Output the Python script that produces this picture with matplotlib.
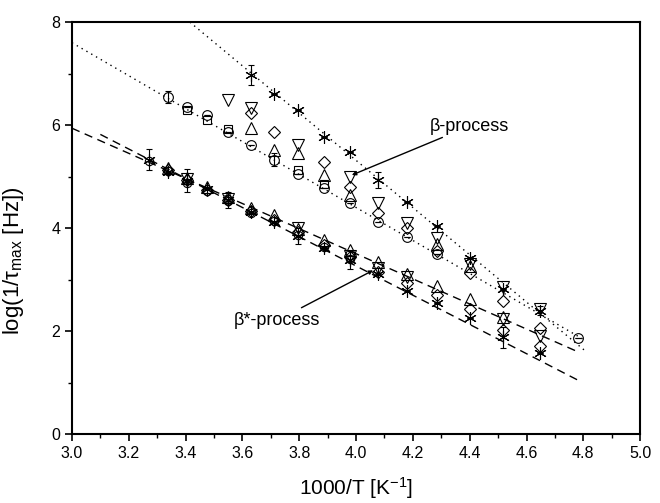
import matplotlib
matplotlib.use("Agg")
import matplotlib.pyplot as plt
import numpy as np

plt.rcParams['font.family'] = ['Liberation Sans', 'DejaVu Sans']
plt.rcParams['mathtext.fontset'] = 'custom'
plt.rcParams['mathtext.rm'] = 'Liberation Sans'
plt.rcParams['mathtext.it'] = 'Liberation Sans'
plt.rcParams['mathtext.default'] = 'regular'

# beta-process (upper branch)
b_star_x = [3.630, 3.711, 3.796, 3.887, 3.979, 4.077, 4.180, 4.285, 4.400, 4.518, 4.648]
b_star_y = [6.97, 6.61, 6.29, 5.77, 5.48, 4.93, 4.51, 4.05, 3.42, 2.82, 2.40]
b_star_e = [0.20, 0.0, 0.0, 0.0, 0.0, 0.15, 0.0, 0.0, 0.0, 0.0, 0.08]

b_circ_x = [3.338, 3.406, 3.477, 3.550, 3.630, 3.711, 3.796, 3.887, 3.979, 4.077, 4.180, 4.285, 4.782]
b_circ_y = [6.55, 6.36, 6.19, 5.86, 5.61, 5.33, 5.05, 4.78, 4.49, 4.12, 3.83, 3.50, 1.86]
b_circ_e = [0.12, 0.0, 0.0, 0.0, 0.0, 0.12, 0.0, 0.0, 0.0, 0.0, 0.0, 0.0, 0.0]

b_sq_x = [3.406, 3.477, 3.550, 3.796, 3.887]
b_sq_y = [6.30, 6.10, 5.93, 5.12, 4.85]

b_dtri_x = [3.550, 3.630, 3.796, 3.979, 4.077, 4.180, 4.285, 4.400, 4.518, 4.648]
b_dtri_y = [6.49, 6.33, 5.61, 5.00, 4.48, 4.10, 3.80, 3.31, 2.86, 2.42]

b_utri_x = [3.630, 3.711, 3.796, 3.887, 3.979, 4.285, 4.400]
b_utri_y = [5.94, 5.51, 5.45, 5.03, 4.64, 3.70, 3.27]

b_dia_x = [3.630, 3.711, 3.887, 3.979, 4.077, 4.180, 4.285, 4.400, 4.518, 4.648]
b_dia_y = [6.24, 5.87, 5.29, 4.80, 4.29, 4.00, 3.56, 3.13, 2.58, 2.06]

# beta*-process (lower branch)
s_star_x = [3.272, 3.338, 3.406, 3.477, 3.550, 3.630, 3.711, 3.796, 3.887, 3.979, 4.077, 4.180, 4.285, 4.400, 4.518, 4.648]
s_star_y = [5.33, 5.08, 4.92, 4.75, 4.55, 4.32, 4.12, 3.85, 3.62, 3.38, 3.10, 2.78, 2.54, 2.25, 1.88, 1.57]
s_star_e = [0.20, 0.0, 0.22, 0.0, 0.15, 0.0, 0.0, 0.15, 0.0, 0.17, 0.0, 0.0, 0.0, 0.0, 0.20, 0.0]

s_dia_x = [3.338, 3.406, 3.477, 3.550, 3.630, 3.711, 3.796, 3.887, 3.979, 4.077, 4.180, 4.285, 4.400, 4.518, 4.648]
s_dia_y = [5.12, 4.93, 4.74, 4.54, 4.34, 4.16, 3.92, 3.67, 3.43, 3.15, 2.94, 2.70, 2.42, 2.03, 1.72]

s_utri_x = [3.338, 3.406, 3.477, 3.550, 3.630, 3.711, 3.796, 3.887, 3.979, 4.077, 4.180, 4.285, 4.400, 4.518]
s_utri_y = [5.16, 4.98, 4.80, 4.60, 4.40, 4.25, 3.98, 3.77, 3.57, 3.35, 3.10, 2.87, 2.62, 2.28]

s_dtri_x = [3.406, 3.550, 3.796, 3.979, 4.077, 4.180, 4.518, 4.648]
s_dtri_y = [4.95, 4.56, 4.00, 3.45, 3.22, 3.05, 2.24, 1.90]

s_circ_x = [3.272, 3.338, 3.406, 3.477, 3.550, 3.630, 3.711, 3.796, 3.887, 3.979]
s_circ_y = [5.30, 5.10, 4.88, 4.72, 4.52, 4.30, 4.14, 3.86, 3.64, 3.40]

# fit lines (end points)
b_fit_star_x = [3.415, 4.810]
b_fit_star_y = [8.00, 1.60]
b_fit_circ_x = [3.000, 4.800]
b_fit_circ_y = [7.60, 1.84]
s_fit_up_x = [3.000, 4.780]
s_fit_up_y = [5.94, 1.60]
s_fit_lo_x = [3.100, 4.780]
s_fit_lo_y = [5.82, 1.05]

fig = plt.figure(figsize=(6.6, 5.03), dpi=100)
ax = fig.add_axes([0.109, 0.137, 0.861, 0.819])

ax.plot(b_fit_star_x, b_fit_star_y, color='k', linestyle=(0, (1, 3)), linewidth=1.0)
ax.plot(b_fit_circ_x, b_fit_circ_y, color='k', linestyle=(0, (1, 3)), linewidth=1.0)
ax.plot(s_fit_up_x, s_fit_up_y, color='k', linestyle=(0, (6, 4)), linewidth=1.0)
ax.plot(s_fit_lo_x, s_fit_lo_y, color='k', linestyle=(0, (6, 4)), linewidth=1.0)

mk = dict(linestyle='none', mfc='none', mec='k', mew=0.8, color='k')
star = (6, 2, 0)

ax.errorbar(b_star_x, b_star_y, yerr=b_star_e, marker=star, ms=9, ecolor='k', elinewidth=0.8, capsize=2.5, **mk)
ax.errorbar(b_circ_x, b_circ_y, yerr=b_circ_e, marker='o', ms=7, ecolor='k', elinewidth=0.8, capsize=2.5, **mk)
ax.plot(b_sq_x, b_sq_y, marker='s', ms=6, **mk)
ax.plot(b_dtri_x, b_dtri_y, marker='v', ms=8.5, **mk)
ax.plot(b_utri_x, b_utri_y, marker='^', ms=8.5, **mk)
ax.plot(b_dia_x, b_dia_y, marker='D', ms=6.5, **mk)

ax.errorbar(s_star_x, s_star_y, yerr=s_star_e, marker=star, ms=9, ecolor='k', elinewidth=0.8, capsize=2.5, **mk)
ax.plot(s_dia_x, s_dia_y, marker='D', ms=6.5, **mk)
ax.plot(s_utri_x, s_utri_y, marker='^', ms=8.5, **mk)
ax.plot(s_dtri_x, s_dtri_y, marker='v', ms=8.5, **mk)
ax.plot(s_circ_x, s_circ_y, marker='o', ms=6, **mk)

ax.annotate('β-process', xy=(3.985, 5.03), xytext=(4.26, 5.98),
            fontsize=13, va='center', ha='left',
            arrowprops=dict(arrowstyle='-|>', color='k', lw=1.0, mutation_scale=6, shrinkA=0, shrinkB=0))
ax.annotate('β*-process', xy=(4.06, 3.18), xytext=(3.875, 2.21),
            fontsize=13, va='center', ha='right',
            arrowprops=dict(arrowstyle='-|>', color='k', lw=1.0, mutation_scale=6, shrinkA=2, shrinkB=0))

ax.set_xlim(3.0, 5.0)
ax.set_ylim(0, 8)
ax.set_xticks(np.arange(3.0, 5.01, 0.2))
ax.set_xticks(np.arange(3.1, 5.0, 0.2), minor=True)
ax.set_yticks([0, 2, 4, 6, 8])
ax.set_yticks([1, 3, 5, 7], minor=True)
ax.tick_params(which='major', direction='out', length=5, width=1.2, labelsize=11.5)
ax.tick_params(which='minor', direction='out', length=3, width=1.0)
ax.xaxis.set_major_formatter(matplotlib.ticker.FormatStrFormatter('%.1f'))
for s in ax.spines.values():
    s.set_linewidth(1.5)

ax.set_xlabel(r'1000/T [K$^{-1}$]', fontsize=15, labelpad=10)
ax.set_ylabel(r'log(1/$\tau_{max}$ [Hz])', fontsize=16)
ax.yaxis.set_label_coords(-0.08, 0.42)

plt.savefig('out.png', dpi=100)
